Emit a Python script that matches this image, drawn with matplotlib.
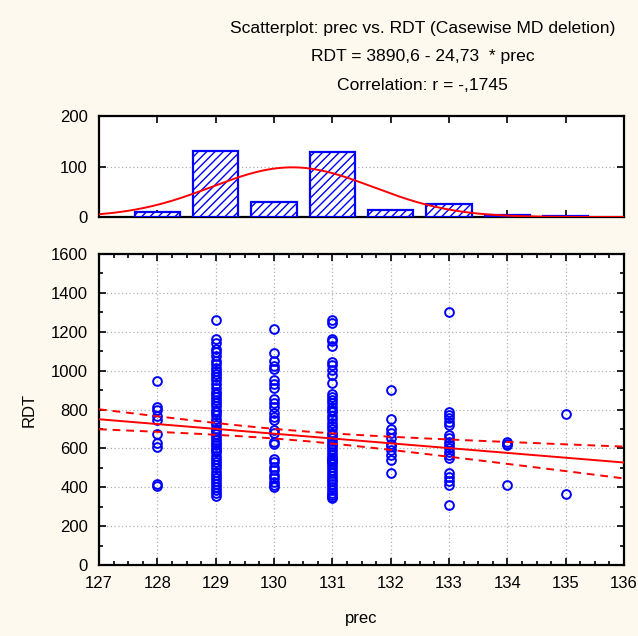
import numpy as np
import matplotlib
matplotlib.use("Agg")
import matplotlib.pyplot as plt
from matplotlib.ticker import MultipleLocator

plt.rcParams['font.family'] = ['Liberation Sans', 'DejaVu Sans']
plt.rcParams['hatch.linewidth'] = 1.0

# ---- data ----
prec_levels = [128, 129, 130, 131, 132, 133, 134, 135]
hist_counts = [9, 130, 29, 128, 13, 26, 3, 2]

rdt_128 = [945, 815, 795, 765, 745, 675, 630, 605, 415, 405]
rdt_129 = [1260, 1165, 1140, 1110, 1095, 1075, 1050, 1035, 1015, 1000, 985, 965,
           950, 930, 910, 890, 880, 865, 850, 835, 820, 800, 785, 770, 750, 735,
           720, 700, 690, 675, 660, 645, 630, 615, 600, 590, 580, 560, 545, 530,
           515, 500, 480, 465, 450, 430, 415, 400, 385, 370, 355]
rdt_130 = [1215, 1092, 1050, 1025, 1007, 952, 931, 911, 852, 832, 815, 784, 763,
           746, 695, 677, 631, 623, 544, 528, 506, 489, 463, 446, 429, 412, 403]
rdt_131 = [1260, 1245, 1165, 1150, 1125, 1045, 1030, 1005, 980, 935, 880, 865,
           850, 835, 815, 800, 785, 765, 750, 730, 715, 700, 680, 670, 655, 640,
           625, 610, 595, 580, 565, 550, 545, 540, 535, 530, 520, 505, 490, 475,
           460, 445, 430, 415, 400, 385, 370, 360, 350, 345]
rdt_132 = [900, 750, 698, 680, 652, 625, 610, 590, 568, 540, 475]
rdt_133 = [1302, 789, 772, 755, 737, 720, 669, 652, 634, 617, 600, 583, 566,
           549, 475, 454, 434, 412, 307]
rdt_134 = [634, 622, 615, 410]
rdt_135 = [777, 365]

# regression (from the chart text) and confidence band parameters
intercept = 3890.6
slope = -24.73
x_mean = 130.3
ci_h0 = 24.5
ci_slope = 13.7

title_lines = ["Scatterplot: prec vs. RDT (Casewise MD deletion)",
               "RDT = 3890,6 - 24,73  * prec",
               "Correlation: r = -,1745"]

# ---- figure ----
bg = '#FEF9EE'
fig = plt.figure(figsize=(6.38, 6.36), dpi=100, facecolor=bg)

ax = fig.add_axes([0.1552, 0.1116, 0.8229, 0.489])
axh = fig.add_axes([0.1552, 0.6588, 0.8229, 0.1588])

blue = '#0000FF'
red = '#FF0000'

# scatter
cols = [rdt_128, rdt_129, rdt_130, rdt_131, rdt_132, rdt_133, rdt_134, rdt_135]
xs, ys = [], []
for p, vals in zip(prec_levels, cols):
    xs += [p] * len(vals)
    ys += vals
ax.plot(xs, ys, 'o', mfc='none', mec=blue, ms=6.3, mew=1.4, zorder=3)

xl = np.linspace(127, 136, 200)
yl = intercept + slope * xl
h = np.sqrt(ci_h0 ** 2 + (ci_slope * (xl - x_mean)) ** 2)
ax.plot(xl, yl, color=red, lw=1.4, zorder=4)
ax.plot(xl, yl + h, color=red, lw=1.4, ls=(0, (4, 3)), zorder=4)
ax.plot(xl, yl - h, color=red, lw=1.4, ls=(0, (4, 3)), zorder=4)

ax.set_xlim(127, 136)
ax.set_ylim(0, 1600)
ax.xaxis.set_major_locator(MultipleLocator(1))
ax.xaxis.set_minor_locator(MultipleLocator(0.25))
ax.yaxis.set_major_locator(MultipleLocator(200))
ax.yaxis.set_minor_locator(MultipleLocator(100))
ax.grid(True, which='major', color='#B0B0B0', ls=(0, (1, 2)), lw=0.9)
ax.set_axisbelow(True)
ax.tick_params(which='both', direction='in', top=True, right=True,
               labelsize=12, width=1.2)
ax.tick_params(which='major', length=5, pad=8)
ax.tick_params(which='minor', length=3)
ax.set_xlabel('prec', fontsize=12, labelpad=14)
ax.set_ylabel('RDT', fontsize=12, labelpad=10)
for s in ax.spines.values():
    s.set_linewidth(1.6)

# histogram
axh.bar(prec_levels, hist_counts, width=0.78, facecolor='white',
        edgecolor=blue, hatch='////', lw=1.6, zorder=3)
counts = np.array(hist_counts, float)
lv = np.array(prec_levels, float)
n = counts.sum()
mu = (counts * lv).sum() / n
sd = np.sqrt((counts * (lv - mu) ** 2).sum() / (n - 1))
xc = np.linspace(127, 136, 300)
yc = n * np.exp(-0.5 * ((xc - mu) / sd) ** 2) / (sd * np.sqrt(2 * np.pi))
axh.plot(xc, yc, color=red, lw=1.4, zorder=4)
axh.set_xlim(127, 136)
axh.set_ylim(0, 200)
axh.set_yticks([0, 100, 200])
axh.xaxis.set_major_locator(MultipleLocator(1))
axh.set_xticklabels([])
axh.grid(True, axis='y', color='#B0B0B0', ls=(0, (1, 2)), lw=0.9)
axh.set_axisbelow(True)
axh.tick_params(which='both', direction='in', top=True, right=True,
                labelsize=12, width=1.2, length=5, pad=8)
for s in axh.spines.values():
    s.set_linewidth(1.6)

# titles
for i, t in enumerate(title_lines):
    fig.text(0.662, 1 - (28 + 29 * i) / 636, t, ha='center', va='center',
             fontsize=12.6)

fig.savefig('out.png', dpi=100, facecolor=bg)
